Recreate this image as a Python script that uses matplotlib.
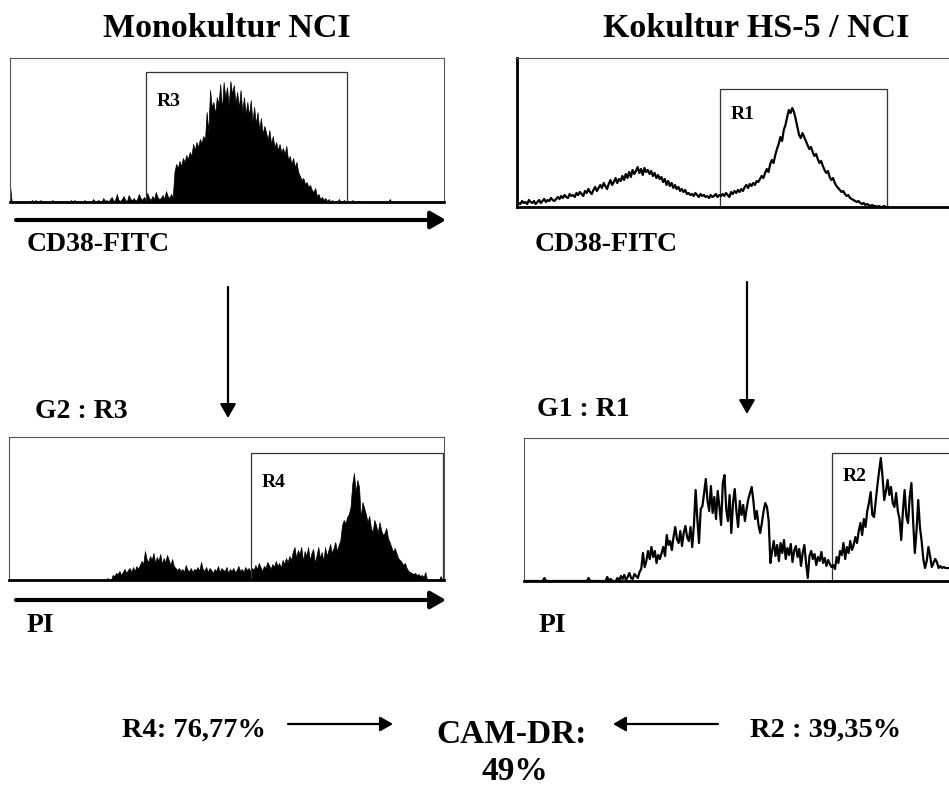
import numpy as np
import matplotlib
matplotlib.use('Agg')
import matplotlib.pyplot as plt
from matplotlib.patches import Rectangle

## Histogram data (counts per channel, 256 channels)
## Monokultur NCI, CD38-FITC (filled), channels from 0
mono_cd38 = [17,0,0,0,0,0,0,0,0,0,0,0,0,2,0,2,0,0,2,0,0,0,0,0,0,2,0,0,0,1,0,0,0,0,0,0,2,0,2,0,
             0,1,0,0,2,0,1,0,0,3,1,0,2,1,0,4,1,2,0,3,5,1,2,8,2,1,3,6,2,1,7,3,2,4,1,3,8,4,2,5,
             3,9,4,2,6,3,10,5,3,4,7,3,11,6,4,8,5,
             30,38,34,41,36,44,40,47,43,50,
             46,58,52,60,55,63,59,
             66,62,90,70,112,
             95,100,88,105,98,118,92,120,104,115,96,121,108,117,99,110,94,112,90,105,88,100,
             86,102,80,95,78,90,72,84,68,76,
             70,62,72,58,66,55,60,52,58,50,
             54,48,56,42,46,38,44,35,40,30,
             26,22,24,18,20,15,17,12,10,14,
             6,8,3,5,2,4,1,3,0,2,
             0,1,0,3,0,0,2,0,1,0,0,2,0,0,0,1,0,0,0,0,0,0,0,0,0,0,0,0,0,0,0,0,0,3,0,0,0,0,0]

## Kokultur HS-5 / NCI, CD38-FITC (line), channels from 0
ko_cd38 = [2,4,3,6,4,5,3,7,5,4,6,3,5,7,4,6,8,5,7,6,9,7,6,8,10,
           8,11,9,12,10,9,13,11,12,10,14,12,15,13,11,16,14,18,15,13,17,20,16,19,22,
           19,24,21,18,23,27,22,25,29,24,28,26,
           31,27,33,29,35,30,37,33,36,40,34,38,32,39,35,37,33,36,31,34,29,32,28,
           30,25,28,22,26,21,24,19,22,18,20,16,18,15,17,13,14,12,
           13,11,14,12,10,13,11,12,10,11,9,12,10,11,13,10,12,11,
           13,11,14,12,10,15,13,16,14,17,15,
           18,16,20,22,19,23,21,24,22,26,25,28,
           31,29,34,38,35,43,47,44,52,
           58,63,70,66,77,82,
           90,97,94,99,95,88,
           80,72,69,74,70,66,
           62,58,60,55,51,53,48,44,46,
           41,37,34,36,30,27,29,24,21,
           19,17,15,16,13,11,12,9,8,
           7,6,5,6,4,3,4,2,3,2,1,2,1,
           1,0,1,0,0,1,0,0]

## Monokultur NCI, PI gated on R3 (filled), channels from 48
mono_pi_start = 48
mono_pi = [0,1,0,0,0,0,0,0,0,0,2,0,0,
           5,4,7,6,9,5,8,11,7,10,12,8,13,9,14,11,15,
           19,16,29,21,18,24,
           20,27,17,23,19,26,16,22,18,25,20,15,21,14,12,
           10,12,9,11,8,15,10,9,12,8,11,10,13,9,18,
           11,9,13,8,12,10,7,11,9,14,8,12,10,9,13,7,11,9,12,8,10,14,9,11,8,13,10,12,9,
           12,10,15,11,17,13,9,14,12,18,15,11,16,13,19,14,17,12,20,16,22,18,24,
           20,28,33,22,30,26,33,19,29,24,33,20,27,31,17,25,33,22,28,19,33,24,30,36,27,32,38,29,35,40,
           55,60,57,63,66,73,
           96,107,88,100,93,
           62,78,72,66,58,64,
           52,48,60,55,47,58,50,45,47,52,42,38,
           33,28,32,27,22,20,
           18,15,17,12,9,8,
           7,6,7,5,6,4,5,3,8,
           0,0,0,0,0,0,0,0,4,0]

## Kokultur HS-5 / NCI, PI gated on R1 (line), channels from 0
ko_pi = [0,0,0,0,0,0,0,0,0,0,0,0,3,
         0,0,0,0,0,0,0,0,0,0,0,0,0,0,0,0,0,0,0,0,0,0,0,0,0,3,
         0,0,0,0,0,0,0,0,0,0,4,0,2,0,0,0,
         3,0,5,2,6,1,4,8,3,2,7,5,3,9,
         12,28,14,20,30,22,
         34,24,30,18,26,22,28,34,25,
         46,36,40,31,44,54,42,38,50,35,48,55,44,40,54,
         34,56,91,62,38,72,
         75,88,102,80,70,95,68,84,62,90,74,56,98,106,72,60,86,48,78,92,
         70,54,80,66,76,60,72,82,88,94,80,62,70,56,48,58,70,78,74,60,
         18,30,40,25,36,20,38,28,41,22,33,26,37,19,30,35,24,32,15,28,36,18,3,25,30,22,27,16,24,20,29,18,23,15,21,17,
         14,16,12,24,18,30,26,38,22,34,28,40,31,36,44,38,50,
         58,46,62,54,70,78,89,
         66,64,80,96,110,
         123,104,81,90,101,86,
         94,78,74,88,70,62,
         41,70,91,65,58,84,98,60,28,
         50,81,54,40,22,13,
         20,34,25,14,18,22,19,13,15,13,14,13,13,13]

## gates: (first channel, last channel, height, label)
gate_r3 = (80.2, 198.8, 130, 'R3')
gate_r1 = (119.2, 217.7, 118, 'R1')
gate_r4 = (142.4, 255.4, 127, 'R4')
gate_r2 = (181.3, 262.0, 128, 'R2')

W, H = 949, 787
fig = plt.figure(figsize=(W/100., H/100.), dpi=100)
plt.rcParams['font.family'] = ['Liberation Serif', 'DejaVu Serif']

## overlay axes in pixel coordinates for the labels and arrows
ax0 = fig.add_axes([0, 0, 1, 1])
ax0.set_xlim(0, W)
ax0.set_ylim(H, 0)
ax0.axis('off')

def px_axes(x0, y0, x1, y1):
    return fig.add_axes([x0/W, 1 - y1/H, (x1 - x0)/W, (y1 - y0)/H])

def panel(ax, ymax, thick_left=False):
    ax.set_xlim(0, 256)
    ax.set_ylim(0, ymax)
    ax.set_xticks([])
    ax.set_yticks([])
    ax.patch.set_alpha(0)
    for s in ['top', 'right', 'left']:
        ax.spines[s].set_color('#555555')
        ax.spines[s].set_linewidth(0.8)
    ax.spines['bottom'].set_color('black')
    ax.spines['bottom'].set_linewidth(2.0)
    if thick_left:
        ax.spines['left'].set_color('black')
        ax.spines['left'].set_linewidth(2.0)

def gate(ax, g, lab_y):
    ax.add_patch(Rectangle((g[0], 0), g[1] - g[0], g[2], fill=False,
                           edgecolor='#333333', lw=0.9, clip_on=False))
    ax.text(g[0] + 6.5, lab_y, g[3], fontsize=14, fontweight='bold', va='baseline')

## top left
ax1 = px_axes(10, 58, 444, 202)
panel(ax1, 144)
x1 = np.arange(len(mono_cd38))
ax1.fill_between(x1, mono_cd38, color='black', lw=0.5)
gate(ax1, gate_r3, 96)

## top right
ax2 = px_axes(517, 58, 952, 207)
panel(ax2, 149, thick_left=True)
x2 = np.arange(len(ko_cd38))
ax2.plot(x2, ko_cd38, color='black', lw=1.6)
gate(ax2, gate_r1, 88)

## bottom left
ax3 = px_axes(9, 437, 444, 580)
panel(ax3, 143)
x3 = np.arange(len(mono_pi)) + mono_pi_start
ax3.fill_between(x3, mono_pi, color='black', lw=0.5)
gate(ax3, gate_r4, 93)

## bottom right
ax4 = px_axes(524, 438, 959, 581)
panel(ax4, 143)
x4 = np.arange(len(ko_pi))
ax4.plot(x4, ko_pi, color='black', lw=1.6)
gate(ax4, gate_r2, 100)

## arrows
def arrow(tail, tip, lw, ms):
    ax0.annotate('', xy=tip, xytext=tail,
                 arrowprops=dict(arrowstyle='-|>,head_length=0.7,head_width=0.4',
                                 lw=lw, color='black', shrinkA=0, shrinkB=0,
                                 mutation_scale=ms))

arrow((16, 220), (446, 220), 3.0, 13)
arrow((527, 220), (957, 220), 3.0, 13)
arrow((16, 600), (446, 600), 3.0, 13)
arrow((517, 600), (957, 600), 3.0, 13)
arrow((228, 287), (228, 418), 1.6, 12)
arrow((747, 282), (747, 414), 1.6, 12)
arrow((288, 724), (393, 724), 1.6, 11)
arrow((718, 724), (613, 724), 1.6, 11)

## texts
tb = dict(fontweight='bold', va='baseline')
ax0.text(227, 37, 'Monokultur NCI', fontsize=24.5, ha='center', **tb)
ax0.text(756, 37, 'Kokultur HS-5 / NCI', fontsize=24.5, ha='center', **tb)
ax0.text(27, 251, 'CD38-FITC', fontsize=20, ha='left', **tb)
ax0.text(535, 251, 'CD38-FITC', fontsize=20, ha='left', **tb)
ax0.text(35, 418, 'G2 : R3', fontsize=20, ha='left', **tb)
ax0.text(537, 416, 'G1 : R1', fontsize=20, ha='left', **tb)
ax0.text(27, 632, 'PI', fontsize=20, ha='left', **tb)
ax0.text(539, 632, 'PI', fontsize=20, ha='left', **tb)
ax0.text(122, 737, 'R4: 76,77%', fontsize=20.5, ha='left', **tb)
ax0.text(512, 743, 'CAM-DR:', fontsize=24, ha='center', **tb)
ax0.text(515, 780, '49%', fontsize=24, ha='center', **tb)
ax0.text(750, 737, 'R2 : 39,35%', fontsize=20.5, ha='left', **tb)

plt.savefig('out.png', dpi=100)
plt.close(fig)
